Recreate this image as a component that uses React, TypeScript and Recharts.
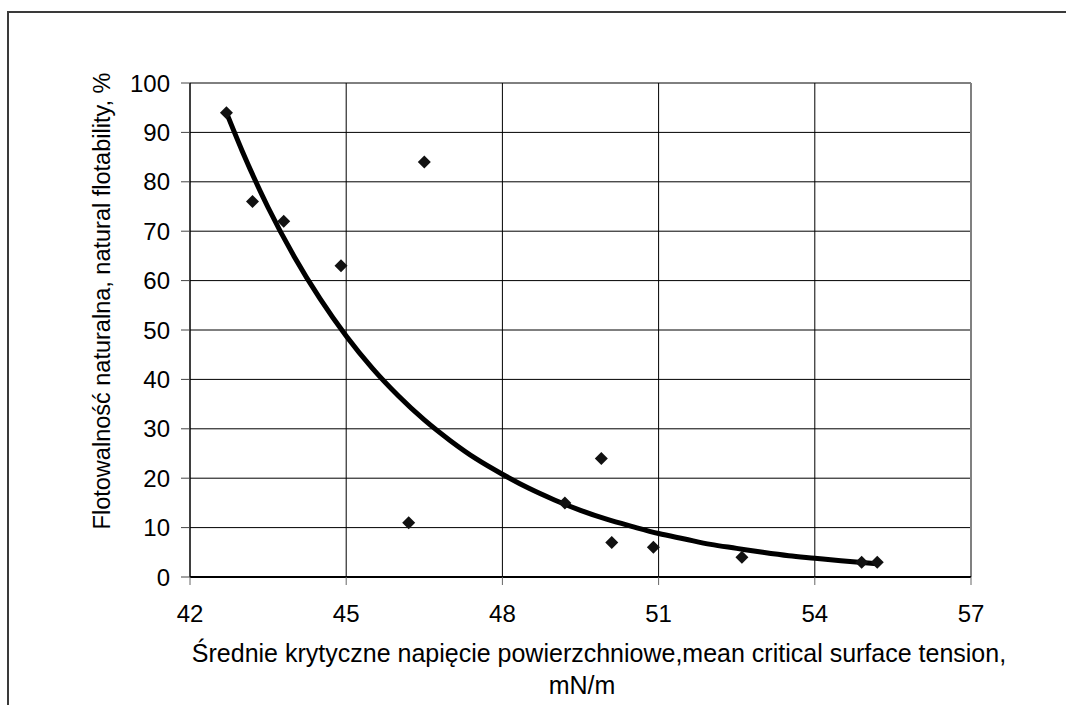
import { CartesianGrid, ReferenceLine, Scatter, ScatterChart, XAxis, YAxis } from 'recharts'

// measured points (mean critical surface tension, natural flotability %)
const tensionX = [42.7, 43.2, 43.8, 44.9, 46.5, 46.2, 49.2, 49.9, 50.1, 50.9, 52.6, 54.9, 55.2]
const flotabilityY = [94, 76, 72, 63, 84, 11, 15, 24, 7, 6, 4, 3, 3]

// trend curve
const trendX = [42.7, 43, 43.5, 44, 44.5, 45, 45.5, 46, 46.5, 47, 47.5, 48, 48.5, 49, 49.5, 50, 50.5, 51, 51.5, 52, 52.5, 53, 53.5, 54, 54.5, 55.2]
const trendY = [94, 86.3, 74.8, 64.9, 56.3, 48.8, 42.3, 36.7, 31.8, 27.6, 23.9, 20.8, 18, 15.6, 13.5, 11.7, 10.2, 8.8, 7.7, 6.6, 5.8, 5, 4.3, 3.8, 3.3, 2.7]

const xTicks = [42, 45, 48, 51, 54, 57]
const yTicks = [0, 10, 20, 30, 40, 50, 60, 70, 80, 90, 100]

const points = tensionX.map((x, i) => ({ x, y: flotabilityY[i] }))
const trend = trendX.map((x, i) => ({ x, y: trendY[i] }))

const FONT = '"Liberation Sans", Arial, sans-serif'
const tickStyle = { fontSize: '24px', fontFamily: FONT }

function Diamond({ cx, cy }: { cx?: number; cy?: number }) {
  if (cx == null || cy == null) return null
  const r = 6.5
  return <polygon points={`${cx},${cy - r} ${cx + r},${cy} ${cx},${cy + r} ${cx - r},${cy}`} fill="#111" />
}

function XTick({ x, payload }: { x?: number; payload?: { value: number } }) {
  return (
    <text x={x} y={622} textAnchor="middle" style={tickStyle} fill="#000">
      {payload?.value}
    </text>
  )
}

function YTick({ y, payload }: { y?: number; payload?: { value: number } }) {
  return (
    <text x={170} y={(y ?? 0) + 8.5} textAnchor="end" style={tickStyle} fill="#000">
      {payload?.value}
    </text>
  )
}

function XTitle() {
  return (
    <text textAnchor="middle" style={{ fontSize: '25px', fontFamily: FONT }} fill="#000">
      <tspan x={599} y={662}>Średnie krytyczne napięcie powierzchniowe,mean critical surface tension,</tspan>
      <tspan x={582} y={694}>mN/m</tspan>
    </text>
  )
}

function YTitle() {
  return (
    <text x={102} y={301} transform="rotate(-90 102 301)" textAnchor="middle" dominantBaseline="central" style={{ fontSize: '23.5px', fontFamily: FONT }} fill="#000">
      Flotowalność naturalna, natural flotability, %
    </text>
  )
}

export default function App() {
  return (
    <div style={{ position: 'fixed', left: 0, top: 0, width: 1066, height: 705, overflow: 'hidden', background: '#fff' }}>
      <div style={{ position: 'absolute', left: 7, top: 11, width: 1100, height: 800, border: '2px solid #3a3a3a' }} />
      <div style={{ position: 'absolute', left: 0, top: 0 }}>
        <ScatterChart width={1066} height={705} margin={{ top: 83, right: 95, bottom: 68, left: 0 }}>
          <CartesianGrid stroke="#000" strokeWidth={1} horizontalValues={yTicks} verticalValues={xTicks} />
          <XAxis
            type="number"
            dataKey="x"
            domain={[42, 57]}
            ticks={xTicks}
            allowDataOverflow
            height={60}
            tickSize={8}
            axisLine={{ stroke: '#000', strokeWidth: 2 }}
            tickLine={{ stroke: '#666' }}
            tick={<XTick />}
            label={<XTitle />}
          />
          <YAxis
            type="number"
            dataKey="y"
            domain={[0, 100]}
            ticks={yTicks}
            allowDataOverflow
            width={190}
            tickSize={9}
            axisLine={{ stroke: '#000' }}
            tickLine={{ stroke: '#444' }}
            tick={<YTick />}
            label={<YTitle />}
          />
          <ReferenceLine x={57} stroke="#808080" strokeWidth={2} />
          <Scatter
            data={trend}
            line={{ stroke: '#000', strokeWidth: 5 }}
            lineJointType="monotoneX"
            shape={() => null}
            isAnimationActive={false}
          />
          <Scatter data={points} shape={<Diamond />} isAnimationActive={false} />
        </ScatterChart>
      </div>
    </div>
  )
}
